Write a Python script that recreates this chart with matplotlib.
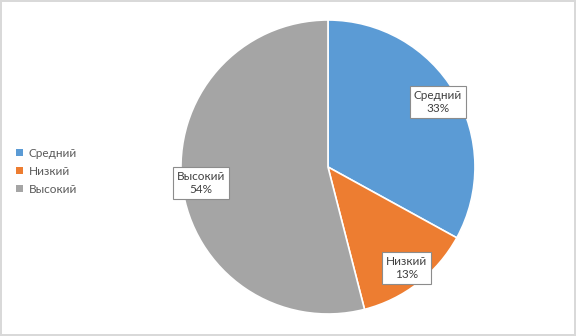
import numpy as np
import matplotlib.pyplot as plt
from matplotlib.patches import Patch

# ===== data =====
labels = ["Средний", "Низкий", "Высокий"]
values = [33, 13, 54]
pct_text = ["33%", "13%", "54%"]
colors = ["#5B9BD5", "#ED7D31", "#A5A5A5"]

plt.rcParams["font.family"] = ["Lato", "DejaVu Sans"]

fig = plt.figure(figsize=(5.76, 3.36), dpi=100)
fig.patch.set_edgecolor("#D9D9D9")
fig.patch.set_linewidth(1.5)

ax = fig.add_axes([0.3142, 0.0655, 0.5104, 0.875])
wedges, _ = ax.pie(values, colors=colors, startangle=90, counterclock=False,
                   radius=1.0, wedgeprops=dict(edgecolor="white", linewidth=1.2))
ax.set_xlim(-1, 1)
ax.set_ylim(-1, 1)
ax.set_aspect("equal")

# label boxes along mid-angles
cum = 0
total = sum(values)
for lab, v, p in zip(labels, values, pct_text):
    mid = 90 - (cum + v / 2) / total * 360
    cum += v
    r = 0.87
    x = r * np.cos(np.radians(mid))
    y = r * np.sin(np.radians(mid))
    ax.text(x, y, f"{lab}\n{p}", ha="center", va="center", fontsize=8.5,
            color="#404040", linespacing=1.3,
            bbox=dict(boxstyle="square,pad=0.3", facecolor="white",
                      edgecolor="#8C8C8C", linewidth=0.8))

# legend
handles = [Patch(facecolor=c, edgecolor="none") for c in colors]
fig.legend(handles, labels, loc="center left", bbox_to_anchor=(0.01, 0.49),
           frameon=False, fontsize=8.5, handlelength=0.55, handleheight=0.55,
           handletextpad=0.5, labelspacing=0.6, labelcolor="#595959")

plt.savefig("out.png", dpi=100)
